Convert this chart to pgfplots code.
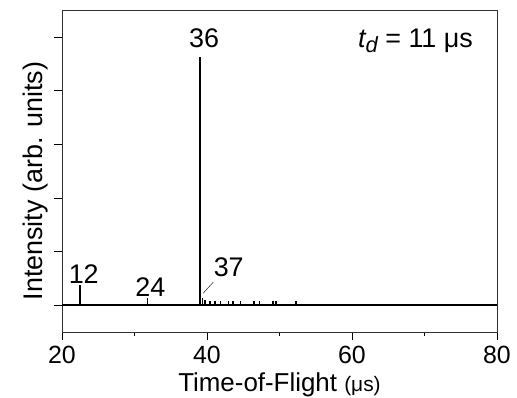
\documentclass[border=0pt]{standalone}
\usepackage{pgfplots}
\pgfplotsset{compat=1.18}
\usepackage{fontspec}
\setmainfont{Liberation Sans}
\begin{document}
\begin{tikzpicture}
\begin{axis}[
  scale only axis,
  at={(0,0)}, anchor=south west,
  width=435bp, height=322bp,
  xmin=20, xmax=80, ymin=-0.5, ymax=5.5,
  xtick={20,40,60,80},
  minor xtick={30,50,70},
  ytick={0,1,2,3,4,5},
  yticklabels={},
  tick align=outside,
  xtick pos=bottom, ytick pos=left,
  major tick length=8bp, minor tick length=4bp,
  every tick/.style={black, line width=0.6pt},
  axis line style={line width=0.8pt, draw=black!80},
  tick label style={font=\fontsize{25}{28}\selectfont},
  xticklabel style={yshift=-3bp},
  /pgf/number format/assume math mode=true,
  xlabel={Time-of-Flight {\fontsize{21}{24}\selectfont(μs)}},
  ylabel={Intensity (arb. units)},
  xlabel style={font=\fontsize{26}{30}\selectfont, at={(axis description cs:0.5,0)}, anchor=base, yshift=-59bp},
  ylabel style={font=\fontsize{27}{30}\selectfont, at={(axis description cs:-0.0437,0.469)}, anchor=base},
  clip=false,
]
\addplot[black, line width=1.6pt] coordinates {(20,0) (80,0)};
\addplot[ycomb, black, line width=1.6pt] coordinates {
  (22.5,0.37) (31.8,0.13) (39.0,4.63)
};
\addplot[ycomb, black, line width=1.4pt] coordinates {
  (39.36,0.13) (39.7,0.10) (40.4,0.08) (41.1,0.08) (41.9,0.08)
  (43.0,0.08) (43.6,0.08) (44.6,0.08) (46.5,0.08) (47.2,0.08)
  (49.1,0.07) (49.5,0.07) (52.3,0.08)
};
\draw[black, line width=0.4pt] (axis cs:39.45,0.22) -- (axis cs:40.87,0.43);
\begin{scope}[every node/.style={font=\fontsize{27}{30}\selectfont, inner sep=0pt}]
\node[anchor=base] at (axis cs:39.6,4.81) {36};
\node[anchor=base] at (axis cs:23.0,0.405) {12};
\node[anchor=base] at (axis cs:32.18,0.155) {24};
\node[anchor=base] at (axis cs:43.0,0.54) {37};
\node[anchor=base east] at (axis cs:76.7,4.81)
  {{\itshape t}\raisebox{-0.35ex}{\fontsize{22}{24}\selectfont\itshape d} = 11 μs};
\end{scope}
\end{axis}
\pgfresetboundingbox
\useasboundingbox (-62bp,-66bp) rectangle (455bp,332bp);
\end{tikzpicture}
\end{document}
